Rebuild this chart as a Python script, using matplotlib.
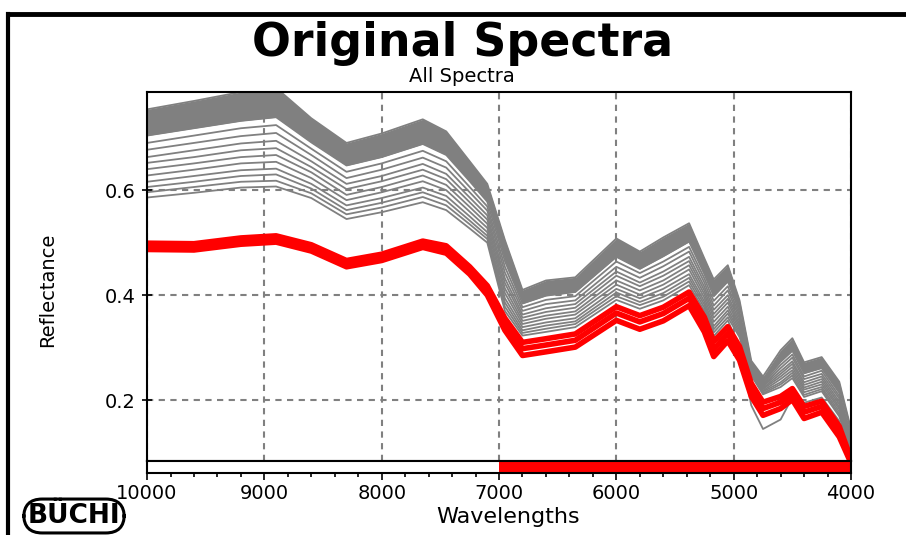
import matplotlib
matplotlib.use("Agg")
import matplotlib.pyplot as plt
from matplotlib.lines import Line2D
from matplotlib.ticker import MultipleLocator

# wavelength grid
wavelengths = [10000, 9600, 9200, 8900, 8600, 8300, 8000, 7650, 7450, 7250, 7100,
               6950, 6800, 6600, 6350, 6000, 5800, 5600, 5380, 5250, 5170, 5050,
               4950, 4850, 4750, 4600, 4500, 4400, 4250, 4100, 4000]

# grey spectra, top to bottom
gray_01 = [0.754, 0.770, 0.787, 0.795, 0.737, 0.690, 0.708, 0.735, 0.712, 0.655, 0.612,
           0.505, 0.410, 0.428, 0.434, 0.508, 0.483, 0.510, 0.537, 0.470, 0.430, 0.457,
           0.390, 0.275, 0.245, 0.295, 0.318, 0.272, 0.282, 0.235, 0.145]
gray_02 = [0.704, 0.718, 0.732, 0.739, 0.691, 0.647, 0.663, 0.688, 0.667, 0.617, 0.578,
           0.465, 0.384, 0.399, 0.406, 0.473, 0.450, 0.474, 0.502, 0.440, 0.398, 0.426,
           0.368, 0.266, 0.234, 0.273, 0.294, 0.251, 0.261, 0.214, 0.132]
gray_03 = [0.690, 0.704, 0.718, 0.724, 0.679, 0.635, 0.651, 0.675, 0.655, 0.606, 0.569,
           0.454, 0.377, 0.391, 0.398, 0.464, 0.442, 0.464, 0.492, 0.432, 0.389, 0.417,
           0.362, 0.264, 0.231, 0.267, 0.287, 0.245, 0.256, 0.208, 0.128]
gray_04 = [0.677, 0.690, 0.703, 0.709, 0.667, 0.623, 0.639, 0.662, 0.643, 0.596, 0.561,
           0.443, 0.370, 0.383, 0.390, 0.454, 0.433, 0.455, 0.483, 0.424, 0.380, 0.409,
           0.356, 0.261, 0.228, 0.261, 0.281, 0.240, 0.250, 0.203, 0.124]
gray_05 = [0.663, 0.676, 0.689, 0.694, 0.655, 0.612, 0.627, 0.650, 0.631, 0.586, 0.552,
           0.432, 0.363, 0.375, 0.383, 0.445, 0.424, 0.445, 0.473, 0.416, 0.372, 0.400,
           0.350, 0.259, 0.226, 0.255, 0.274, 0.234, 0.245, 0.197, 0.121]
gray_06 = [0.652, 0.663, 0.676, 0.680, 0.644, 0.602, 0.617, 0.639, 0.621, 0.577, 0.544,
           0.423, 0.357, 0.368, 0.376, 0.437, 0.417, 0.437, 0.465, 0.409, 0.364, 0.393,
           0.344, 0.257, 0.223, 0.250, 0.269, 0.229, 0.240, 0.192, 0.118]
gray_07 = [0.640, 0.651, 0.663, 0.667, 0.634, 0.591, 0.606, 0.628, 0.610, 0.568, 0.536,
           0.413, 0.351, 0.361, 0.369, 0.428, 0.409, 0.428, 0.457, 0.402, 0.357, 0.386,
           0.339, 0.255, 0.221, 0.245, 0.263, 0.224, 0.235, 0.187, 0.114]
gray_08 = [0.628, 0.639, 0.651, 0.654, 0.623, 0.581, 0.596, 0.617, 0.600, 0.559, 0.528,
           0.404, 0.345, 0.355, 0.363, 0.420, 0.401, 0.420, 0.449, 0.395, 0.349, 0.378,
           0.334, 0.253, 0.218, 0.240, 0.257, 0.220, 0.230, 0.183, 0.111]
gray_09 = [0.616, 0.627, 0.638, 0.641, 0.612, 0.571, 0.585, 0.605, 0.589, 0.550, 0.520,
           0.394, 0.339, 0.348, 0.356, 0.412, 0.394, 0.412, 0.440, 0.388, 0.341, 0.371,
           0.329, 0.250, 0.216, 0.234, 0.252, 0.215, 0.225, 0.178, 0.108]
gray_10 = [0.606, 0.616, 0.627, 0.630, 0.603, 0.562, 0.576, 0.596, 0.580, 0.542, 0.513,
           0.386, 0.333, 0.342, 0.350, 0.405, 0.387, 0.404, 0.433, 0.382, 0.335, 0.365,
           0.324, 0.249, 0.213, 0.230, 0.247, 0.210, 0.221, 0.173, 0.105]
gray_11 = [0.596, 0.606, 0.616, 0.618, 0.594, 0.554, 0.567, 0.587, 0.571, 0.535, 0.507,
           0.378, 0.328, 0.336, 0.345, 0.398, 0.381, 0.397, 0.426, 0.376, 0.329, 0.358,
           0.320, 0.247, 0.211, 0.225, 0.242, 0.206, 0.217, 0.169, 0.103]
gray_12 = [0.586, 0.595, 0.605, 0.607, 0.585, 0.545, 0.558, 0.577, 0.562, 0.527, 0.500,
           0.370, 0.323, 0.330, 0.339, 0.391, 0.374, 0.390, 0.419, 0.370, 0.322, 0.352,
           0.300, 0.190, 0.145, 0.163, 0.205, 0.195, 0.205, 0.160, 0.095]

# red (selected) spectra
red_hi = [0.499, 0.498, 0.509, 0.513, 0.496, 0.466, 0.478, 0.503, 0.494, 0.454, 0.418,
          0.356, 0.310, 0.317, 0.326, 0.378, 0.361, 0.377, 0.406, 0.358, 0.312, 0.340,
          0.302, 0.232, 0.196, 0.207, 0.222, 0.188, 0.198, 0.150, 0.088]
red_mid = [0.493, 0.492, 0.503, 0.507, 0.490, 0.460, 0.472, 0.497, 0.487, 0.447, 0.410,
           0.345, 0.298, 0.305, 0.314, 0.366, 0.349, 0.365, 0.394, 0.345, 0.297, 0.327,
           0.290, 0.220, 0.184, 0.196, 0.212, 0.177, 0.188, 0.140, 0.083]
red_lo = [0.487, 0.486, 0.497, 0.501, 0.484, 0.454, 0.466, 0.491, 0.480, 0.440, 0.400,
          0.333, 0.285, 0.292, 0.301, 0.352, 0.335, 0.351, 0.380, 0.330, 0.283, 0.313,
          0.276, 0.207, 0.171, 0.184, 0.201, 0.165, 0.177, 0.130, 0.080]

gray_spectra = [gray_01, gray_02, gray_03, gray_04, gray_05, gray_06,
                gray_07, gray_08, gray_09, gray_10, gray_11, gray_12]
red_spectra = [red_hi, red_mid, red_lo]

x_ticks = [10000, 9000, 8000, 7000, 6000, 5000, 4000]
y_ticks = [0.2, 0.4, 0.6]
selected_range = (7000, 4000)

GRAY = "#808080"

fig = plt.figure(figsize=(9.06, 5.35), dpi=100)
ax = fig.add_axes([0.1623, 0.1383, 0.777, 0.6897])
strip = fig.add_axes([0.1623, 0.1159, 0.777, 0.0224], sharex=ax)

# spectra
ax.fill_between(wavelengths, gray_01, gray_02, color=GRAY, lw=0)
for g in gray_spectra:
    ax.plot(wavelengths, g, color=GRAY, lw=1.3)
for r in red_spectra:
    ax.plot(wavelengths, r, color="#ff0000", lw=4)

ax.set_xlim(10000, 4000)
ax.set_ylim(0.084, 0.787)
ax.set_xticks(x_ticks)
ax.set_yticks(y_ticks)
ax.set_yticklabels([f"{v:.1f}" for v in y_ticks])
ax.grid(True, ls=(0, (3, 2.6)), color=GRAY, lw=1.5)
ax.tick_params(axis="x", bottom=False, labelbottom=False)
ax.tick_params(axis="y", direction="inout", length=7, width=1.2, labelsize=14, pad=5)
for s in ax.spines.values():
    s.set_linewidth(1.5)
ax.set_ylabel("Reflectance", fontsize=14)
ax.yaxis.set_label_coords(-0.128, 0.463)

# selection strip under the plot
strip.axvspan(*selected_range, color="#ff0000", lw=0)
strip.set_yticks([])
strip.set_xticks(x_ticks)
strip.xaxis.set_minor_locator(MultipleLocator(200))
strip.tick_params(axis="x", which="major", direction="out", length=5, width=1.2,
                  labelsize=14, pad=3)
strip.tick_params(axis="x", which="minor", direction="out", length=3, width=1.2)
for s in strip.spines.values():
    s.set_linewidth(1.5)

fig.text(508 / 906, 1 - 517 / 535, "Wavelengths", fontsize=16, ha="center", va="center")
fig.text(463 / 906, 1 - 44 / 535, "Original Spectra", fontsize=33, weight="bold",
         ha="center", va="center")
fig.text(462 / 906, 1 - 76 / 535, "All Spectra", fontsize=14, ha="center", va="center")

# logo
fig.text(74 / 906, 1 - 516 / 535, "BÜCHI", fontsize=19, weight="heavy",
         ha="center", va="center",
         bbox=dict(boxstyle="round,pad=0.15,rounding_size=0.7", fc="white", ec="black", lw=2.2))

# picture border
fig.add_artist(Line2D([8 / 906, 1], [1 - 14 / 535] * 2, color="black", lw=3.5,
                      transform=fig.transFigure))
fig.add_artist(Line2D([8 / 906] * 2, [0, 1 - 14 / 535], color="black", lw=3,
                      transform=fig.transFigure))

fig.savefig("out.png", dpi=100)
